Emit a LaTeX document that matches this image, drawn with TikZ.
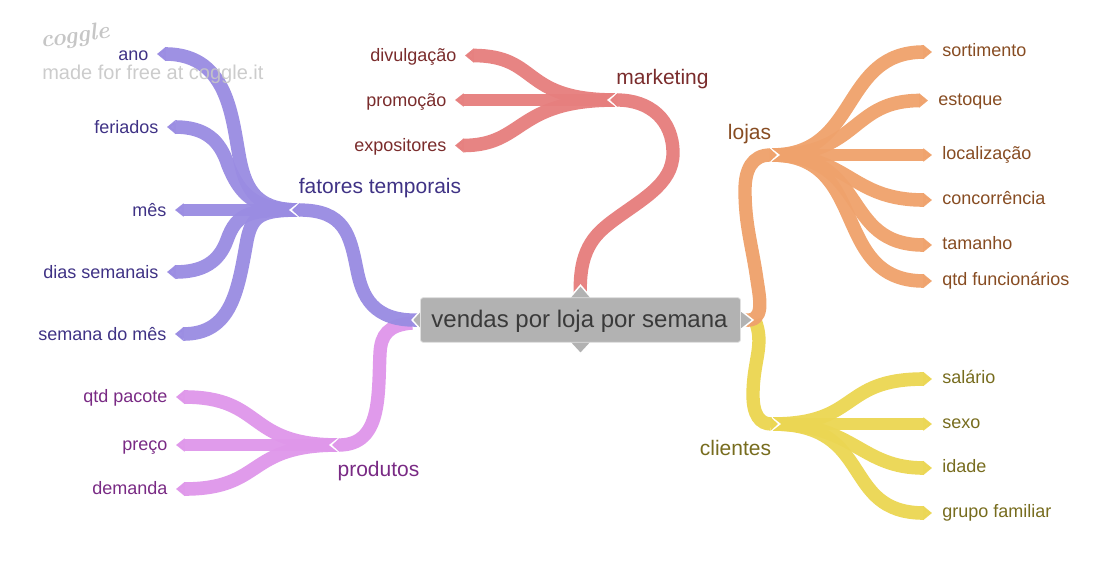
\documentclass[tikz,border=0pt]{standalone}
\usepackage{fontspec}
\setmainfont{Liberation Sans}
\newfontfamily\logofont{Latin Modern Roman}
\usetikzlibrary{arrows.meta,calc,backgrounds}
\definecolor{cpur}{HTML}{9A8CE2}\definecolor{tpur}{HTML}{3F3285}
\definecolor{cred}{HTML}{E67F7E}\definecolor{tred}{HTML}{7A2C2C}
\definecolor{cora}{HTML}{EFA26C}\definecolor{tora}{HTML}{874C22}
\definecolor{cyel}{HTML}{EBD653}\definecolor{tyel}{HTML}{776C1E}
\definecolor{cpin}{HTML}{DF97EA}\definecolor{tpin}{HTML}{792A84}
\definecolor{croot}{HTML}{B2B2B2}\definecolor{troot}{HTML}{3A3A3A}
\definecolor{wm}{HTML}{C6C6C6}
\tikzset{
 band/.style={line width=10.2pt,draw opacity=.96,fill opacity=.96,-{Triangle[length=6.5pt,width=10.2pt]}},
 flatband/.style={line width=9.3pt,draw opacity=.96,fill opacity=.96,-{Triangle[length=6.5pt,width=9.8pt]}},
 parentband/.style={line width=10pt,draw opacity=.97,fill opacity=.97,-{Triangle[length=5.5pt,width=9.8pt]}},
 leafl/.style={anchor=east,inner xsep=6.25pt,inner ysep=0pt,text height=11pt,text depth=2pt,font=\fontsize{13.5}{15}\selectfont},
 leafp/.style={leafl,text height=10.4pt,text depth=2.6pt},
 leafr/.style={anchor=west,inner xsep=7.5pt,inner ysep=0pt,text height=10pt,text depth=3pt,font=\fontsize{13.5}{15}\selectfont},
 topic/.style={inner sep=0pt,text height=12pt,text depth=1pt,font=\fontsize{15.75}{17}\selectfont},
 notchw/.style={fill=white},
 tab/.style={fill=croot,draw=white,line width=1.1pt,line join=miter},
}
\newcommand{\hubnotch}[2]{\fill[notchw,shift={(#1)},xscale=#2] (3,0)--(-7,-7.8)--(-7,7.8)--cycle;}
\begin{document}
\begin{tikzpicture}[x=.75pt,y=-.75pt]
\useasboundingbox (0,0) rectangle (1110,572);
% root
\node[fill=croot,draw=white!88!black,line width=.6pt,rounded corners=2pt,minimum width=240pt,minimum height=33.5pt,inner sep=0pt,text height=12.5pt,text depth=1.1pt,text=troot,font=\fontsize{18}{20}\selectfont] (root) at (580.5,320) {\hspace*{-1.5pt}vendas por loja por semana};
% hubs
\coordinate (hft) at (292,210);
\coordinate (hpr) at (332,445);
\coordinate (hmk) at (610,100);
\coordinate (hlo) at (777,155);
\coordinate (hcl) at (778,424);
\coordinate (sft) at (299,210);
\coordinate (spr) at (338,445);
\coordinate (smk) at (615,100);
\coordinate (slo) at (772,155);
\coordinate (scl) at (773,424);
% leaves
\node[leafl,text=tpur] (ano) at (157,54) {ano};
\node[leafl,text=tpur] (fer) at (167,127) {feriados};
\node[leafl,text=tpur] (mes) at (175,210) {mês};
\node[leafl,text=tpur] (dia) at (167,272) {dias semanais};
\node[leafl,text=tpur] (sem) at (175,334) {semana do mês};
\node[leafp,text=tpin] (qtp) at (176,397) {qtd pacote};
\node[leafp,text=tpin] (pre) at (176,445) {preço};
\node[leafp,text=tpin] (dem) at (176,489) {demanda};
\node[leafl,text=tred] (div) at (465,55.5) {divulgação};
\node[leafl,text=tred] (pro) at (455,100) {promoção};
\node[leafl,text=tred] (exp) at (455,145.5) {expositores};
\node[leafr,text=tora] (sor) at (932,52) {sortimento};
\node[leafr,text=tora] (est) at (928,100.5) {estoque};
\node[leafr,text=tora] (loc) at (932,155) {localização};
\node[leafr,text=tora] (con) at (932,200) {concorrência};
\node[leafr,text=tora] (tam) at (932,245) {tamanho};
\node[leafr,text=tora] (qtf) at (932,281) {qtd funcionários};
\node[leafr,text=tyel] (sal) at (932,379) {salário};
\node[leafr,text=tyel] (sex) at (932,424) {sexo};
\node[leafr,text=tyel] (ida) at (932,468) {idade};
\node[leafr,text=tyel] (gru) at (932,513) {grupo familiar};
% topics
\node[topic,text=tpur] (ft) at (380,186) {fatores temporais};
\node[topic,text=tpin] (pr) at (378.5,469) {produtos};
\node[topic,text=tred] (mk) at (662.5,77) {marketing};
\node[topic,text=tora] (lo) at (749.5,132) {lojas};
\node[topic,text=tyel] (cl) at (735.5,448) {clientes};
\begin{scope}[on background layer]
% children
\draw[band,cpur] (sft) .. controls (262,210) and (248,195) .. (241,165) .. controls (232,125) and (232,54) .. (ano.east);
\draw[band,cpur] (sft) .. controls (255,210) and (240,195) .. (228,165) .. controls (220,140) and (205,127) .. (fer.east);
\draw[flatband,cpur] (sft) -- (mes.east);
\draw[band,cpur] (sft) .. controls (250,210) and (237,212) .. (227,240) .. controls (219,262) and (203,272) .. (dia.east);
\draw[band,cpur] (sft) .. controls (262,210) and (252,215) .. (247,240) .. controls (238,290) and (232,334) .. (sem.east);
\draw[band,cpin] (spr) .. controls (245,445) and (265,397) .. (qtp.east);
\draw[flatband,cpin] (spr) -- (pre.east);
\draw[band,cpin] (spr) .. controls (245,445) and (265,489) .. (dem.east);
\draw[band,cred] (smk) .. controls (520,100) and (540,55.5) .. (div.east);
\draw[flatband,cred] (smk) -- (pro.east);
\draw[band,cred] (smk) .. controls (515,100) and (525,145.5) .. (exp.east);
\draw[band,cora] (slo) .. controls (860,155) and (840,52) .. (sor.west);
\draw[band,cora] (slo) .. controls (860,155) and (850,100.5) .. (est.west);
\draw[flatband,cora] (slo) -- (loc.west);
\draw[band,cora] (slo) .. controls (850,155) and (850,200) .. (con.west);
\draw[band,cora] (slo) .. controls (870,155) and (840,245) .. (tam.west);
\draw[band,cora] (slo) .. controls (870,155) and (830,281) .. (qtf.west);
\draw[band,cyel] (scl) .. controls (860,424) and (840,379) .. (sal.west);
\draw[flatband,cyel] (scl) -- (sex.west);
\draw[band,cyel] (scl) .. controls (855,424) and (860,468) .. (ida.west);
\draw[band,cyel] (scl) .. controls (875,424) and (840,513) .. (gru.west);
% notches
\hubnotch{hft}{-1}\hubnotch{hpr}{-1}\hubnotch{hmk}{-1}\hubnotch{hlo}{1}\hubnotch{hcl}{1}
% main branches
\draw[parentband,cpin] (root.west) ++(-8,3) .. controls (388,325) and (381,335) .. (380,353) .. controls (378,395) and (382,445) .. (hpr);
\draw[parentband,cpur] (root.west) .. controls (372,322) and (362,295) .. (357,270) .. controls (350,235) and (345,210) .. (hft);
\draw[parentband,cred] (root.north) .. controls (578,250) and (595,235) .. (610,223) .. controls (640,200) and (673,185) .. (673,153) .. controls (673,120) and (650,100) .. (hmk);
\draw[parentband,cyel] (root.east) ++(14,0) .. controls (765,345) and (753,360) .. (753,395) .. controls (753,415) and (760,424) .. (hcl);
\draw[parentband,cora] (root.east) ++(4,0) .. controls (765,322) and (760,300) .. (757,280) .. controls (752,245) and (745,225) .. (745,190) .. controls (745,170) and (752,155) .. (hlo);
% root tabs
\fill[tab] ($(root.west)+(-8,0)$) -- ($(root.west)+(2,-11)$) -- ($(root.west)+(2,11)$) -- cycle;
\fill[tab] ($(root.east)+(12,0)$) -- ($(root.east)+(-2,-11)$) -- ($(root.east)+(-2,11)$) -- cycle;
\fill[tab] ($(root.north)+(0,-12)$) -- ($(root.north)+(-12,2)$) -- ($(root.north)+(12,2)$) -- cycle;
\fill[tab] ($(root.south)+(0,11)$) -- ($(root.south)+(-12,-2)$) -- ($(root.south)+(12,-2)$) -- cycle;
\end{scope}
% watermark
\node[text=wm,rotate=8,inner sep=0pt,font=\logofont\itshape\bfseries\fontsize{18}{20}\selectfont] (logo) at (75,37) {coggle};
\node[text=wm,anchor=west,inner sep=0pt,fill opacity=.9,text opacity=.9,font=\fontsize{15}{17}\selectfont] (mf) at (42,74.5) {made for free at coggle.it};
\end{tikzpicture}
\end{document}
